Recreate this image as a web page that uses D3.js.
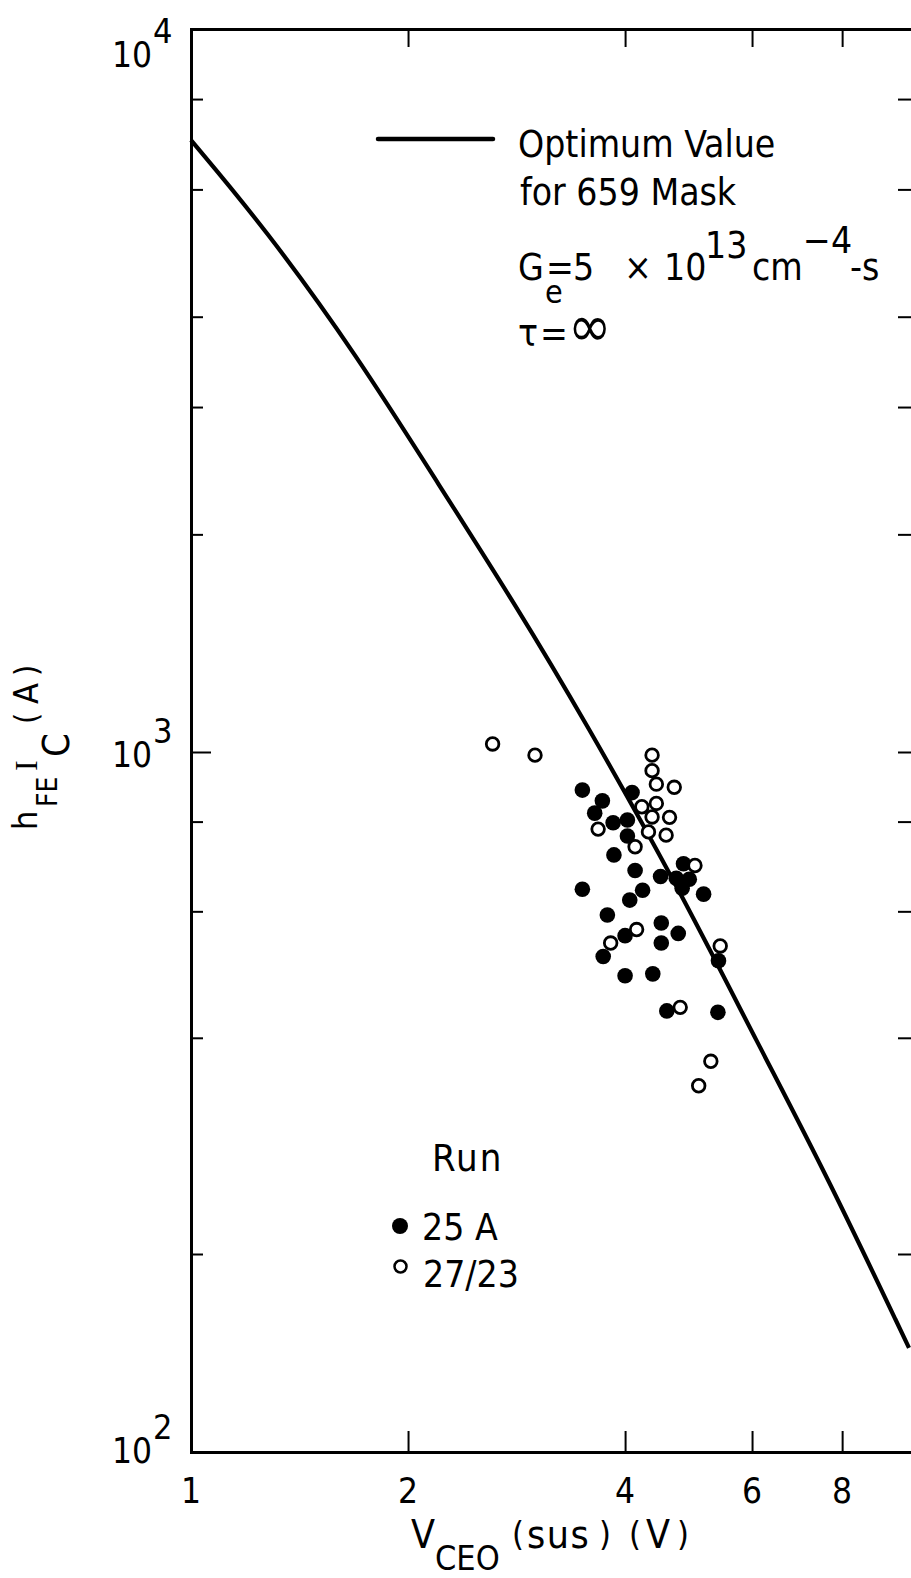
<!DOCTYPE html>
<html><head><meta charset="utf-8">
<script src="https://cdn.jsdelivr.net/npm/d3@7"></script>
<style>
html,body{margin:0;padding:0;background:#fff;}
svg{display:block;}
text{font-family:"Liberation Sans Narrow","DejaVu Sans Condensed","Liberation Sans",Arial,sans-serif;fill:#000;}
</style></head><body>
<svg id="chart" width="911" height="1578"></svg>
<script>
// ---------- data ----------
// Optimum value curve: V_CEO(sus) [V] vs hFE*IC [A]
const curveV = [1.000, 1.267, 1.698, 2.214, 2.828, 3.513, 4.707, 6.140, 7.594, 9.905];
const curveH = [7020, 5300, 3540, 2330, 1590, 1107, 657, 389, 259, 144];
// Run 25 A (filled)
const run25A_V = [3.49, 3.72, 3.63, 4.09, 3.85, 4.03, 4.03, 3.86, 4.13, 3.49, 4.23, 4.06, 4.48, 4.82, 4.71, 4.91, 4.80, 5.14, 3.78, 4.49, 4.74, 4.00, 4.49, 3.73, 5.39, 4.00, 4.37, 4.57, 5.38];
const run25A_H = [885, 855, 822, 878, 797, 804, 764, 719, 684, 644, 642, 622, 671, 699, 667, 665, 646, 634, 593, 578, 559, 555, 542, 519, 512, 488, 491, 436, 434];
// Run 27/23 (open)
const run2723_V = [2.62, 3.00, 4.36, 4.36, 4.42, 4.68, 4.22, 4.42, 4.36, 4.61, 3.67, 4.31, 4.56, 4.13, 5.00, 4.15, 3.82, 5.42, 4.77, 5.26, 5.06];
const run2723_H = [1026, 990, 990, 942, 902, 893, 839, 848, 812, 811, 781, 774, 766, 738, 695, 566, 542, 537, 441, 371, 343];
// ticks
const xTickValues = [2, 4, 6, 8];
const xLabelValues = [1, 2, 4, 6, 8];
const xTickLabels = ["1", "2", "4", "6", "8"];
const yMinorTicks = [200, 400, 600, 800, 2000, 3000, 4000, 6000, 8000];
const yMajorTicks = [1000];
const yDecades = [10000, 1000, 100];
const yDecadeExp = ["4", "3", "2"];
const legendRuns = ["25 A", "27/23"];
const legendTitle = "Run";

// ---------- layout ----------
const svg = d3.select("#chart");
const pLeft = 191, pRight = 912, pTop = 29, pBottom = 1452;
const x = d3.scaleLog().domain([1, 10]).range([pLeft, pRight]);
const y = d3.scaleLog().domain([100, 200, 1000, 10000]).range([pBottom, 1254, 752, pTop]);

function styleAxis(g, domainW) {
  g.select(".domain").attr("stroke", "#000").attr("stroke-width", domainW).attr("stroke-linecap", "square");
  g.selectAll(".tick line").attr("stroke", "#000").attr("stroke-width", 2);
  g.selectAll(".tick text").remove();
}
svg.append("g").attr("transform", `translate(0,${pBottom})`)
  .call(d3.axisBottom(x).tickValues(xTickValues).tickSizeInner(-21).tickSizeOuter(0).tickFormat(""))
  .call(g => styleAxis(g, 3));
svg.append("g").attr("transform", `translate(0,${pTop})`)
  .call(d3.axisTop(x).tickValues(xTickValues).tickSizeInner(-18).tickSizeOuter(0).tickFormat(""))
  .call(g => styleAxis(g, 3));
svg.append("g").attr("transform", `translate(${pLeft},0)`)
  .call(d3.axisLeft(y).tickValues(yMinorTicks).tickSizeInner(-12).tickSizeOuter(0).tickFormat(""))
  .call(g => styleAxis(g, 3));
svg.append("g").attr("transform", `translate(${pLeft},0)`)
  .call(d3.axisLeft(y).tickValues(yMajorTicks).tickSizeInner(-20).tickSizeOuter(0).tickFormat(""))
  .call(g => { styleAxis(g, 3); g.select(".domain").remove(); });
svg.append("g").attr("transform", `translate(${pRight},0)`)
  .call(d3.axisRight(y).tickValues(yMinorTicks.concat(yMajorTicks)).tickSizeInner(-14).tickSizeOuter(0).tickFormat(""))
  .call(g => styleAxis(g, 3));

// x tick labels
svg.append("g").selectAll("text").data(xLabelValues).join("text")
  .attr("x", d => x(d)).attr("y", 1503).attr("text-anchor", "middle")
  .attr("font-size", 35).text((d, i) => xTickLabels[i]);

// y decade labels
const yShift = [38, 15, 11];
const yl = svg.append("g");
yDecades.forEach((v, i) => {
  yl.append("text").attr("x", 152).attr("y", y(v) + yShift[i]).attr("text-anchor", "end")
    .attr("font-size", 35).text("10");
  yl.append("text").attr("x", 153).attr("y", y(v) + yShift[i] - 24).attr("text-anchor", "start")
    .attr("font-size", 34).text(yDecadeExp[i]);
});

// x axis title
const xt = svg.append("g").attr("font-size", 39);
xt.append("text").attr("x", 411).attr("y", 1548).text("V");
xt.append("text").attr("x", 435).attr("y", 1570).attr("font-size", 34).text("CEO");
xt.append("text").attr("x", 512).attr("y", 1546).attr("font-size", 34).text("(");
xt.append("text").attr("x", 527).attr("y", 1548).attr("letter-spacing", 1.5).text("sus");
xt.append("text").attr("x", 599).attr("y", 1546).attr("font-size", 34).text(")");
xt.append("text").attr("x", 629).attr("y", 1546).attr("font-size", 34).text("(");
xt.append("text").attr("x", 646).attr("y", 1548).text("V");
xt.append("text").attr("x", 677).attr("y", 1546).attr("font-size", 34).text(")");

// y axis title (rotated)
const ytg = svg.append("g").attr("transform", "translate(37,830) rotate(-90)");
ytg.append("text").attr("x", 0).attr("y", 0).attr("font-size", 34).text("h");
ytg.append("text").attr("x", 23).attr("y", 20).attr("font-size", 28).text("FE");
ytg.append("text").attr("x", 59).attr("y", 0).attr("font-size", 32)
  .style("font-family", "'Liberation Serif','DejaVu Serif',serif").text("I");
ytg.append("text").attr("x", 73).attr("y", 32).attr("font-size", 38).text("C");
ytg.append("text").attr("x", 106).attr("y", 0).attr("font-size", 32).text("(");
ytg.append("text").attr("x", 126).attr("y", 1).attr("font-size", 34).text("A");
ytg.append("text").attr("x", 154).attr("y", 0).attr("font-size", 32).text(")");

// optimum curve
const line = d3.line().x(d => x(d[0])).y(d => y(d[1])).curve(d3.curveBasis);
svg.append("path").datum(curveV.map((v, i) => [v, curveH[i]]))
  .attr("d", line).attr("fill", "none").attr("stroke", "#000").attr("stroke-width", 4.2);

// data points
svg.append("g").selectAll("circle").data(run25A_V.map((v, i) => [v, run25A_H[i]])).join("circle")
  .attr("cx", d => x(d[0])).attr("cy", d => y(d[1])).attr("r", 7.8).attr("fill", "#000");
svg.append("g").selectAll("circle").data(run2723_V.map((v, i) => [v, run2723_H[i]])).join("circle")
  .attr("cx", d => x(d[0])).attr("cy", d => y(d[1])).attr("r", 6.3)
  .attr("fill", "#fff").attr("stroke", "#000").attr("stroke-width", 2.8);

// annotation / curve legend
svg.append("line").attr("x1", 378).attr("x2", 493).attr("y1", 139).attr("y2", 139)
  .attr("stroke", "#000").attr("stroke-width", 4.5).attr("stroke-linecap", "round");
const an = svg.append("g").attr("font-size", 37);
an.append("text").attr("x", 518).attr("y", 157).text("Optimum Value");
an.append("text").attr("x", 520).attr("y", 205).text("for 659 Mask");
const gl = an.append("text").attr("y", 280);
gl.append("tspan").attr("x", 518).text("G");
gl.append("tspan").attr("x", 545).attr("y", 303).attr("font-size", 32).text("e");
gl.append("tspan").attr("x", 546).attr("y", 280).text("=");
gl.append("tspan").attr("x", 573).text("5");
gl.append("tspan").attr("x", 624).text("×");
gl.append("tspan").attr("x", 664).text("10");
gl.append("tspan").attr("x", 705).attr("y", 258).text("13");
gl.append("tspan").attr("x", 752).attr("y", 280).text("cm");
gl.append("tspan").attr("x", 803).attr("y", 253).text("−4");
gl.append("tspan").attr("x", 850).attr("y", 280).text("-s");
const tl = an.append("text").attr("y", 346);
tl.append("tspan").attr("x", 518).text("τ");
tl.append("tspan").attr("x", 540).text("=");
tl.append("tspan").attr("x", 568).attr("font-size", 58).text("∞");

// run legend
const lg = svg.append("g").attr("font-size", 37);
lg.append("text").attr("x", 432).attr("y", 1171).attr("font-size", 38).attr("letter-spacing", 2).text(legendTitle);
lg.append("circle").attr("cx", 400).attr("cy", 1226).attr("r", 8).attr("fill", "#000");
lg.append("circle").attr("cx", 400.5).attr("cy", 1266.5).attr("r", 6)
  .attr("fill", "#fff").attr("stroke", "#000").attr("stroke-width", 2.5);
lg.append("text").attr("x", 422).attr("y", 1240).text(legendRuns[0]);
lg.append("text").attr("x", 423).attr("y", 1287).text(legendRuns[1]);
</script>
</body></html>
